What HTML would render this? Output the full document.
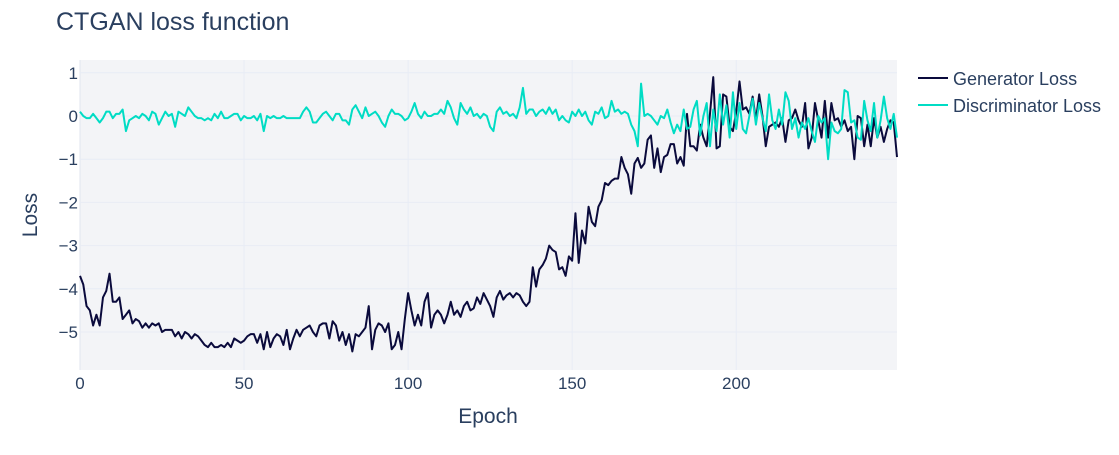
<!DOCTYPE html>
<html><head><meta charset="utf-8"><style>
body{margin:0;background:#fff;font-family:"Liberation Sans",sans-serif}
svg text{font-family:"Liberation Sans",sans-serif;fill:#2a3f5f}
</style></head><body>
<svg id="chart" width="1119" height="450">
<text x="56" y="30" font-size="25">CTGAN loss function</text>
<rect x="80" y="60" width="817" height="310" fill="#f3f4f7"/>
<g id="grid"></g><g id="series"></g><g id="ticks"></g>
<text x="488" y="423" font-size="21" text-anchor="middle">Epoch</text>
<text x="37" y="215" font-size="21" text-anchor="middle" transform="rotate(-90 37 215)">Loss</text>
<g>
<line x1="918" y1="78" x2="948" y2="78" stroke="#0a0a3c" stroke-width="2"/>
<text x="953" y="85" font-size="18">Generator Loss</text>
<line x1="918" y1="105" x2="948" y2="105" stroke="#00dcc4" stroke-width="2"/>
<text x="953" y="112" font-size="18">Discriminator Loss</text>
</g>
</svg>
<script>
const xTicks=[0,50,100,150,200];
const yTicks=[1,0,-1,-2,-3,-4,-5];
const yTickLabels=["1","0","−1","−2","−3","−4","−5"];
const genLoss=[
-3.7,-3.9,-4.4,-4.5,-4.85,-4.6,-4.85,-4.2,-4.05,-3.65,
-4.3,-4.3,-4.2,-4.7,-4.6,-4.5,-4.8,-4.7,-4.75,-4.9,
-4.8,-4.9,-4.8,-4.85,-4.8,-5.0,-4.95,-4.95,-4.95,-5.1,
-5.0,-5.15,-5.0,-5.05,-5.15,-5.05,-5.1,-5.2,-5.3,-5.35,
-5.25,-5.35,-5.35,-5.3,-5.35,-5.25,-5.35,-5.15,-5.2,-5.25,
-5.2,-5.1,-5.05,-5.05,-5.25,-5.05,-5.4,-5.0,-5.35,-5.15,
-5.05,-5.1,-5.3,-4.95,-5.4,-5.15,-4.95,-5.1,-4.95,-4.9,
-4.85,-5.0,-5.1,-4.85,-4.8,-4.8,-5.15,-4.75,-4.85,-5.2,
-5.0,-5.3,-5.05,-5.45,-5.05,-5.1,-5.0,-4.9,-4.4,-5.4,
-4.95,-4.8,-4.85,-5.0,-4.8,-5.4,-5.3,-5.0,-5.4,-4.7,
-4.1,-4.5,-4.85,-4.6,-4.85,-4.3,-4.1,-4.9,-4.6,-4.5,
-4.6,-4.8,-4.6,-4.3,-4.6,-4.5,-4.65,-4.4,-4.3,-4.5,
-4.45,-4.2,-4.35,-4.1,-4.25,-4.4,-4.65,-4.2,-4.05,-4.25,
-4.15,-4.1,-4.2,-4.1,-4.15,-4.3,-4.4,-4.3,-3.5,-3.95,
-3.55,-3.45,-3.3,-3.0,-3.1,-3.15,-3.55,-3.5,-3.7,-3.25,
-3.35,-2.25,-3.4,-2.65,-2.95,-2.1,-2.45,-2.55,-2.1,-1.95,
-1.55,-1.6,-1.5,-1.45,-1.45,-0.95,-1.2,-1.35,-1.8,-1.1,
-0.97,-1.2,-1.1,-0.55,-0.45,-1.2,-0.75,-1.3,-0.95,-0.9,
-0.65,-0.65,-1.1,-0.95,-1.15,0.05,-0.7,-0.7,-0.8,-0.2,
-0.5,-0.7,0.05,0.9,-0.75,-0.7,0.5,0.45,-0.25,-0.35,
0.1,0.8,0.15,0.2,0.05,0.45,-0.1,0.5,0.0,-0.7,
-0.25,-0.2,-0.15,-0.25,-0.05,-0.6,-0.1,-0.05,0.15,-0.1,
-0.25,0.3,-0.75,-0.5,0.3,-0.1,-0.5,0.35,-0.5,0.3,
-0.1,-0.05,-0.25,-0.1,-0.35,-0.25,-1.0,0.0,-0.05,-0.7,
-0.2,-0.7,-0.05,-0.5,-0.25,-0.6,-0.3,-0.1,-0.15,-0.95];
const discLoss=[
0.1,0.0,-0.05,-0.05,0.05,-0.05,-0.15,-0.05,0.1,0.1,
-0.05,0.05,0.05,0.15,-0.35,-0.1,-0.05,0.0,-0.05,0.05,
0.0,-0.1,0.1,0.05,-0.2,-0.05,0.1,0.0,0.05,-0.25,
0.1,0.05,0.0,0.2,0.1,0.0,-0.05,-0.05,-0.1,-0.05,
-0.1,0.05,-0.05,0.1,-0.05,-0.05,0.0,0.05,0.05,-0.1,
0.0,-0.05,-0.05,0.0,-0.1,0.05,-0.35,0.0,-0.05,0.0,
-0.05,-0.05,0.0,-0.05,-0.05,-0.05,-0.05,-0.05,0.1,0.2,
0.1,-0.15,-0.15,-0.05,0.05,0.1,0.0,-0.1,0.05,0.05,
-0.1,-0.1,-0.2,0.15,0.25,0.1,-0.05,0.2,0.0,0.05,
0.1,0.0,-0.15,-0.25,0.0,0.15,0.05,0.05,0.0,-0.1,
-0.05,0.1,0.3,0.05,-0.05,0.1,0.0,0.0,0.05,0.05,
0.15,0.05,0.35,0.2,-0.05,-0.2,0.3,0.15,0.05,0.2,
0.0,0.05,-0.05,0.05,0.0,-0.25,-0.35,0.1,0.2,0.05,
0.1,0.0,0.05,-0.05,0.2,0.65,0.05,0.15,0.15,0.0,
0.1,0.15,0.05,0.2,0.05,0.15,-0.1,0.0,-0.1,-0.15,
0.1,0.0,0.15,0.0,0.1,-0.1,-0.2,0.1,0.05,0.2,
-0.05,0.0,0.35,0.1,0.15,0.05,0.1,0.05,-0.2,-0.35,
-0.7,0.75,0.0,0.05,0.0,-0.1,-0.2,0.0,-0.05,0.15,
-0.15,-0.4,-0.2,-0.35,0.15,-0.3,-0.25,0.15,0.35,-0.45,
0.0,0.3,-0.7,0.15,-0.35,0.5,-0.2,0.25,-0.5,0.55,
-0.3,0.3,-0.3,-0.4,0.0,0.4,-0.2,0.3,-0.05,-0.35,
0.5,-0.1,-0.3,0.15,-0.2,0.55,0.35,-0.3,-0.05,-0.5,
-0.15,-0.3,-0.05,-0.35,-0.6,0.0,-0.15,-0.05,-1.0,-0.15,
-0.35,-0.4,-0.3,0.6,0.55,-0.15,-0.1,-0.5,-0.55,0.35,
-0.1,-0.35,0.3,-0.5,-0.1,0.45,-0.05,-0.3,0.05,-0.5];
const X0=80,X1=897,Y0=60,Y1=370;
function xs(v){return X0+v*(X1-X0)/249;}
function ys(v){return 116-v*43.2;}
const ns="http://www.w3.org/2000/svg";
function mk(tag,attrs,parent,txt){const e=document.createElementNS(ns,tag);for(const k in attrs)e.setAttribute(k,attrs[k]);if(txt!==undefined)e.textContent=txt;document.getElementById(parent).appendChild(e);return e;}
xTicks.forEach(t=>{
 const g=mk('line',{x1:xs(t),x2:xs(t),y1:Y0,y2:Y1,stroke:t===0?'#e1e6ef':'#e8ecf5','stroke-width':1},'grid');
 
 
 const l=mk('text',{x:xs(t),y:389,'font-size':17,'text-anchor':'middle'},'ticks',String(t));
 
 
});
yTicks.forEach((t,i)=>{
 const g=mk('line',{x1:X0,x2:X1,y1:ys(t),y2:ys(t),stroke:'#e8ecf5','stroke-width':1},'grid');
 
 
 const l=mk('text',{x:78,y:ys(t)+6,'font-size':17,'text-anchor':'end'},'ticks',yTickLabels[i]);
 
 
});
function line(data,color,name){
 const d=data.map((v,i)=>(i?'L':'M')+xs(i).toFixed(2)+' '+ys(v).toFixed(2)).join(' ');
 const p=mk('path',{d:d,fill:'none',stroke:color,'stroke-width':2,'stroke-linejoin':'round'},'series');
 
 
}
line(genLoss,'#0a0a3c','generator-loss-line');
line(discLoss,'#00dcc4','discriminator-loss-line');
</script>
</body></html>
